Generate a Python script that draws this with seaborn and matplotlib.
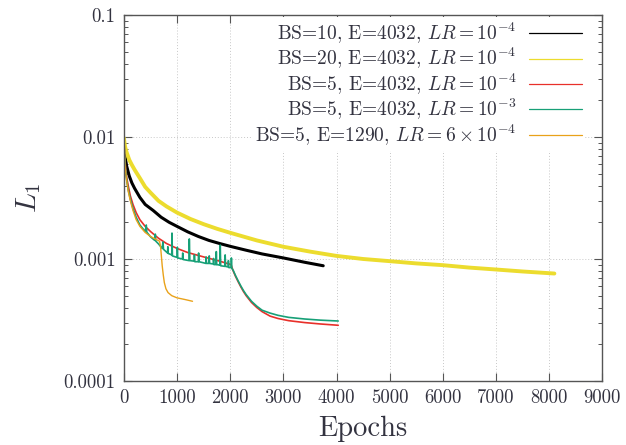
import pandas as pd
import matplotlib
matplotlib.use('Agg')
import matplotlib.pyplot as plt
import seaborn as sns
from matplotlib.ticker import LogLocator, NullFormatter

# Training curves, values (L1 loss vs epochs)
black_x = [0, 10, 25, 50, 100, 150, 200, 300, 400, 550, 700, 850, 1000, 1200, 1400, 1600,
           1800, 2000, 2300, 2600, 3000, 3400, 3750]
black_y = [0.0095, 0.0080, 0.0068, 0.0058, 0.0048, 0.0042, 0.0038, 0.0032, 0.0028, 0.0025,
           0.0022, 0.0020, 0.00185, 0.00167, 0.00153, 0.00142, 0.00134, 0.00127, 0.00118,
           0.00110, 0.00102, 0.00094, 0.00088]

yellow_x = [0, 10, 25, 50, 100, 150, 200, 300, 400, 500, 650, 800, 1000, 1250, 1500, 1750,
            2000, 2500, 3000, 3500, 4000, 4500, 5000, 5500, 6000, 6500, 7000, 7500, 8100]
yellow_y = [0.0098, 0.0090, 0.0082, 0.0075, 0.0065, 0.0059, 0.0054, 0.0046, 0.0039, 0.0035,
            0.0030, 0.0027, 0.0024, 0.00213, 0.00193, 0.00177, 0.00164, 0.00142, 0.00126,
            0.00115, 0.00106, 0.00100, 0.00096, 0.00092, 0.00089, 0.00085, 0.00082, 0.00079,
            0.00076]

red_x = [0, 10, 25, 50, 80, 120, 170, 230, 300, 400, 500, 650, 800, 1000, 1200, 1500, 1800,
         2016, 2030, 2060, 2100, 2150, 2200, 2250, 2300, 2400, 2500, 2600, 2750, 2900, 3100,
         3400, 3700, 4032]
red_y = [0.0095, 0.0075, 0.0060, 0.0047, 0.0040, 0.0033, 0.0028, 0.0024, 0.0021, 0.00185,
         0.00168, 0.00148, 0.00134, 0.00122, 0.00113, 0.00104, 0.00096, 0.00090, 0.00086,
         0.00079, 0.00072, 0.00065, 0.00059, 0.00054, 0.00050, 0.00044, 0.00040, 0.00037,
         0.00034, 0.000325, 0.000312, 0.000301, 0.000293, 0.000286]

green_x = [0, 10, 25, 50, 80, 120, 170, 230, 300, 400, 420, 430, 500, 580, 590, 600, 650,
           720, 734, 745, 820, 826, 834, 900, 904, 912, 1000, 1005, 1012, 1100, 1106, 1114,
           1224, 1230, 1240, 1320, 1326, 1334, 1400, 1405, 1412, 1500, 1540, 1546, 1554,
           1600, 1605, 1612, 1680, 1686, 1694, 1733, 1738, 1745, 1808, 1812, 1820, 1900,
           1905, 1912, 1960, 1966, 1974, 2016, 2022, 2030, 2060, 2100, 2150, 2200, 2250,
           2300, 2400, 2500, 2600, 2750, 2900, 3100, 3400, 3700, 4032]
green_y = [0.0095, 0.0072, 0.0057, 0.0045, 0.0037, 0.0031, 0.0026, 0.0022, 0.0019, 0.00168,
           0.00190, 0.00166, 0.00152, 0.00142, 0.00160, 0.00140, 0.00133, 0.00122, 0.00138,
           0.00120, 0.00112, 0.00126, 0.00111, 0.00108, 0.00163, 0.00106, 0.00103, 0.00125,
           0.00102, 0.00100, 0.00112, 0.00099, 0.00097, 0.00146, 0.00097, 0.00096, 0.00108,
           0.00095, 0.00095, 0.00112, 0.00095, 0.00093, 0.00092, 0.00104, 0.00092, 0.00092,
           0.00106, 0.00092, 0.00091, 0.00101, 0.00090, 0.00090, 0.00115, 0.00090, 0.00089,
           0.00130, 0.00088, 0.00087, 0.00108, 0.00087, 0.00086, 0.00097, 0.00085, 0.00085,
           0.00102, 0.00084, 0.00080, 0.00073, 0.00066, 0.00060, 0.00055, 0.00051, 0.00045,
           0.00041, 0.00038, 0.000360, 0.000345, 0.000332, 0.000322, 0.000315, 0.000310]

orange_x = [0, 10, 25, 50, 80, 120, 170, 230, 300, 400, 500, 600, 670, 690, 705, 720, 740,
            760, 790, 830, 900, 1000, 1150, 1290]
orange_y = [0.0095, 0.0070, 0.0055, 0.0044, 0.0036, 0.0030, 0.0025, 0.0021, 0.00185, 0.00165,
            0.00153, 0.00145, 0.00140, 0.00125, 0.00105, 0.00088, 0.00074, 0.00064, 0.00057,
            0.00053, 0.00050, 0.00048, 0.000465, 0.00045]

labels = [
    'BS=10, E=4032, $LR = 10^{-4}$',
    'BS=20, E=4032, $LR = 10^{-4}$',
    'BS=5, E=4032, $LR = 10^{-4}$',
    'BS=5, E=4032, $LR = 10^{-3}$',
    r'BS=5, E=1290, $LR = 6 \times 10^{-4}$',
]
colors = ['#000000', '#ecdc2e', '#e8302a', '#17a077', '#e9a21a']
widths = [2.2, 2.8, 1.2, 1.2, 1.0]
series = [(black_x, black_y), (yellow_x, yellow_y), (red_x, red_y),
          (green_x, green_y), (orange_x, orange_y)]

sns.set_style('ticks')
plt.rcParams['font.family'] = 'cmr10'
plt.rcParams['mathtext.fontset'] = 'cm'
plt.rcParams['axes.formatter.use_mathtext'] = True

fig = plt.figure(figsize=(6.26, 4.45), dpi=100)
ax = fig.add_axes([0.198, 0.144, 0.764, 0.822])

for (xs, ys), lab, col, lw in zip(series, labels, colors, widths):
    df = pd.DataFrame({'epoch': xs, 'loss': ys})
    sns.lineplot(data=df, x='epoch', y='loss', ax=ax, color=col, lw=lw,
                 estimator=None, sort=False, label=lab)

ax.set_yscale('log')
ax.set_ylim(1e-4, 0.1)
ax.set_xlim(0, 9000)
ax.set_xticks(range(0, 9001, 1000), labels=[str(v) for v in range(0, 9001, 1000)])
ax.set_yticks([1e-4, 1e-3, 1e-2, 1e-1], labels=['0.0001', '0.001', '0.01', '0.1'])
ax.yaxis.set_minor_locator(LogLocator(base=10, subs=range(2, 10)))
ax.yaxis.set_minor_formatter(NullFormatter())

ax.tick_params(which='both', direction='in', top=True, right=True,
               colors='#555555', labelcolor='#333340', labelsize=13.5)
ax.tick_params(which='major', length=6, width=0.8, pad=6)
ax.tick_params(which='minor', length=3, width=0.7)
for sp in ax.spines.values():
    sp.set_color('#555555')
    sp.set_linewidth(1.0)

ax.grid(True, which='major', ls=(0, (1, 2)), color='#c8c8c8', lw=0.7)
ax.set_axisbelow(True)

ax.set_xlabel('Epochs', fontsize=20.5, color='#333340', labelpad=6)
ax.set_ylabel('$L_1$', fontsize=21, color='#333340', labelpad=15)

leg = ax.legend(loc='upper right', bbox_to_anchor=(0.965, 0.995), markerfirst=False,
                fontsize=14, frameon=True, facecolor='white', edgecolor='none',
                framealpha=1, fancybox=False, handlelength=2.7, handletextpad=0.65,
                labelspacing=0.02, borderpad=0.2, borderaxespad=0)
for h in leg.legend_handles:
    h.set_linewidth(0.9)
for col in leg._legend_handle_box.get_children():
    col.align = 'right'
for t in leg.get_texts():
    t.set_color('#333340')

fig.savefig('out.png', dpi=100)
